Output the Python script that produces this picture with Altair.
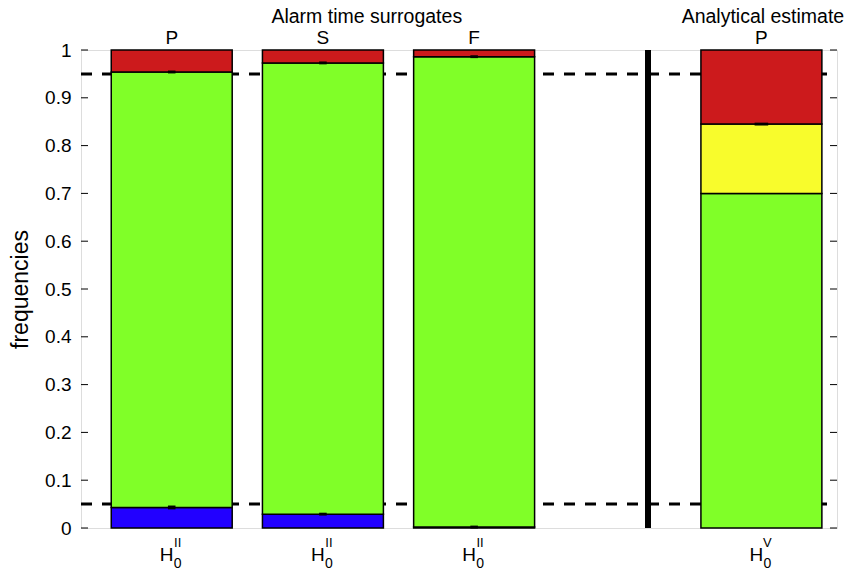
import altair as alt
import pandas as pd

# ---- data ----
bar_pos = [0.0, 1.0, 2.0, 3.9]            # bar centres on the x scale
top_labels = ["P", "S", "F", "P"]
bottom_sup = ["II", "II", "II", "V"]
blue_frac = [0.043, 0.029, 0.002, 0.0]
green_frac = [0.911, 0.944, 0.984, 0.700]
yellow_frac = [0.0, 0.0, 0.0, 0.145]
red_frac = [0.046, 0.027, 0.014, 0.155]
err_bar = [0, 0, 1, 1, 2, 2, 3]
err_val = [0.043, 0.954, 0.029, 0.973, 0.002, 0.986, 0.845]
err_sd = [0.004, 0.003, 0.003, 0.003, 0.003, 0.003, 0.003]
thresholds = [0.05, 0.95]
group_titles = ["Alarm time surrogates", "Analytical estimate"]
group_title_pos = [1.29, 3.91]
divider_pos = [3.15]
y_ticks = [round(i * 0.1, 1) for i in range(11)]

FONT = "Liberation Sans"
W, H = 756, 478
HALF = 0.4
XDOM = [-0.6, 4.4]

segments = ["blue", "green", "yellow", "red"]
seg_colors = ["#2200ff", "#80ff28", "#f8fc2c", "#cc1a1c"]
rows = []
for i, x in enumerate(bar_pos):
    start = 0.0
    for seg, vals in zip(segments, [blue_frac, green_frac, yellow_frac, red_frac]):
        v = vals[i]
        if v > 0:
            rows.append({"x": x - HALF, "x2": x + HALF, "y": start, "y2": start + v, "seg": seg})
        start += v
bars = pd.DataFrame(rows)

xs = alt.Scale(domain=XDOM, nice=False, zero=False)
ys = alt.Scale(domain=[0, 1], nice=False)

bar_layer = alt.Chart(bars).mark_rect(stroke="black", strokeWidth=1.5).encode(
    x=alt.X("x:Q", scale=xs, axis=None),
    x2="x2",
    y=alt.Y("y:Q", scale=ys, axis=alt.Axis(
        values=y_ticks, format="~g", title="frequencies", grid=False, ticks=False,
        domain=False, labelFont=FONT, labelFontSize=19, labelColor="black",
        labelPadding=10, titleFont=FONT, titleFontSize=23, titleFontWeight="normal",
        titleColor="black", titlePadding=12)),
    y2="y2",
    color=alt.Color("seg:N", scale=alt.Scale(domain=segments, range=seg_colors), legend=None),
)

thr = pd.DataFrame({"y": thresholds})
dash_layer = alt.Chart(thr).mark_rule(color="black", strokeWidth=3, strokeDash=[11, 10]).encode(
    y=alt.Y("y:Q", scale=ys), x=alt.value(0), x2=alt.value(W))

div = pd.DataFrame({"x": divider_pos})
div_layer = alt.Chart(div).mark_rule(color="black", strokeWidth=6).encode(
    x=alt.X("x:Q", scale=xs), y=alt.value(0), y2=alt.value(H))

err = pd.DataFrame({"b": err_bar, "v": err_val, "sd": err_sd})
err["c"] = [bar_pos[b] for b in err["b"]]
err["w"] = [0.045 if b == 3 else 0.025 for b in err["b"]]
err["x"] = err["c"] - err["w"]
err["x2"] = err["c"] + err["w"]
err["lo"] = err["v"] - err["sd"]
err["hi"] = err["v"] + err["sd"]
err_layer = alt.Chart(err).mark_rect(color="black").encode(
    x=alt.X("x:Q", scale=xs), x2="x2", y=alt.Y("lo:Q", scale=ys), y2="hi")

ticks = pd.DataFrame({"y": y_ticks})
tick_l = alt.Chart(ticks).mark_rule(color="black", strokeWidth=1).encode(
    y=alt.Y("y:Q", scale=ys), x=alt.value(0), x2=alt.value(7))
tick_r = alt.Chart(ticks).mark_rule(color="black", strokeWidth=1).encode(
    y=alt.Y("y:Q", scale=ys), x=alt.value(W - 7), x2=alt.value(W))

lab = pd.DataFrame({"x": bar_pos, "top": top_labels, "sup": bottom_sup})
top_text = alt.Chart(lab).mark_text(font=FONT, fontSize=19, baseline="middle", color="black").encode(
    x=alt.X("x:Q", scale=xs), y=alt.value(-12), text="top:N")
h_text = alt.Chart(lab).mark_text(font=FONT, fontSize=19, baseline="middle", color="black", dx=-5).encode(
    x=alt.X("x:Q", scale=xs), y=alt.value(H + 27), text=alt.value("H"))
sup_text = alt.Chart(lab).mark_text(font=FONT, fontSize=13, baseline="middle", color="black", dx=6).encode(
    x=alt.X("x:Q", scale=xs), y=alt.value(H + 15), text="sup:N")
sub_text = alt.Chart(lab).mark_text(font=FONT, fontSize=14, baseline="middle", color="black", dx=6).encode(
    x=alt.X("x:Q", scale=xs), y=alt.value(H + 36), text=alt.value("0"))

gt = pd.DataFrame({"x": group_title_pos, "t": group_titles})
title_text = alt.Chart(gt).mark_text(font=FONT, fontSize=19.5, baseline="middle", color="black").encode(
    x=alt.X("x:Q", scale=xs), y=alt.value(-33), text="t:N")

chart = alt.layer(
    dash_layer, bar_layer, div_layer, err_layer, tick_l, tick_r,
    top_text, h_text, sup_text, sub_text, title_text,
).properties(
    width=W, height=H,
    autosize=alt.AutoSizeParams(type="none"),
    padding={"left": 81, "top": 50, "right": 11, "bottom": 45},
).configure_view(stroke="black", strokeWidth=1.5).configure(background="white")

chart.save("out.html", embed_options={"renderer": "svg", "actions": False})
